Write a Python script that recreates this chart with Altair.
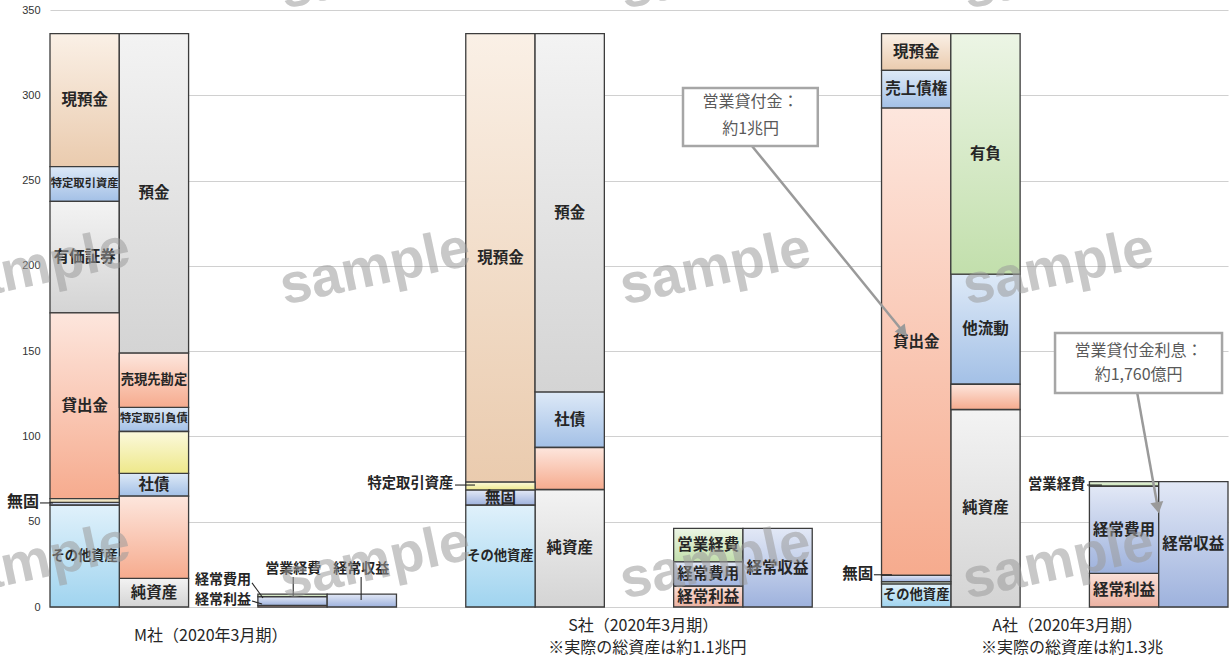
import math
import altair as alt
import pandas as pd

# ---------------------------------------------------------------- data
# x slots: 17 equal slots, balance sheet / income statement columns with gaps
columns = ["M資産", "M負債", "M費用", "M収益",
           "S資産", "S負債", "S費用", "S収益",
           "A資産", "A負債", "A費用", "A収益"]
column_slots = [0, 1, 3, 4, 6, 7, 9, 10, 12, 13, 15, 16]

# segments of each column, bottom to top
m_assets_items = ["その他資産", "無形", "固定", "貸出金", "有価証券", "特定取引資産", "現預金"]
m_assets_values = [59.8, 1.5, 2.2, 108.9, 65.4, 20.4, 78.0]
m_liab_items = ["純資産", "その他負債", "社債", "その他", "特定取引負債", "売現先勘定", "預金"]
m_liab_values = [16.8, 48.2, 13.3, 24.6, 14.1, 31.8, 187.4]
m_cost_items = ["経常利益", "経常費用", "営業経費"]
m_cost_values = [0.9, 5.1, 1.6]
m_rev_items = ["経常収益"]
m_rev_values = [7.6]

s_assets_items = ["その他資産", "無固", "特定取引資産", "現預金"]
s_assets_values = [59.8, 8.7, 4.7, 263.0]
s_liab_items = ["純資産", "その他負債", "社債", "預金"]
s_liab_values = [68.9, 24.6, 32.6, 210.1]
s_cost_items = ["経常利益", "経常費用", "営業経費"]
s_cost_values = [12.3, 14.2, 19.6]
s_rev_items = ["経常収益"]
s_rev_values = [46.1]

a_assets_items = ["その他資産", "無形", "固定", "貸出金", "売上債権", "現預金"]
a_assets_values = [13.5, 1.3, 3.7, 274.0, 22.1, 21.6]
a_liab_items = ["純資産", "その他負債", "他流動", "有負"]
a_liab_values = [115.8, 14.8, 64.5, 141.1]
a_cost_items = ["経常利益", "経常費用", "営業経費"]
a_cost_values = [19.7, 51.1, 2.7]
a_rev_items = ["経常収益"]
a_rev_values = [73.5]

segments = {
    "M資産": (m_assets_items, m_assets_values), "M負債": (m_liab_items, m_liab_values),
    "M費用": (m_cost_items, m_cost_values), "M収益": (m_rev_items, m_rev_values),
    "S資産": (s_assets_items, s_assets_values), "S負債": (s_liab_items, s_liab_values),
    "S費用": (s_cost_items, s_cost_values), "S収益": (s_rev_items, s_rev_values),
    "A資産": (a_assets_items, a_assets_values), "A負債": (a_liab_items, a_liab_values),
    "A費用": (a_cost_items, a_cost_values), "A収益": (a_rev_items, a_rev_values),
}

# company captions under each group
caption_texts = ["M社（2020年3月期）",
                 "S社（2020年3月期）", "※実際の総資産は約1.1兆円",
                 "A社（2020年3月期）", "※実際の総資産は約1.3兆"]
caption_x = [2.32, 8.56, 8.62, 14.68, 14.75]
caption_y = [-17.0, -11.4, -24.2, -11.4, -24.2]

# labels placed beside thin segments, with leader lines
side_texts = ["無固", "経常費用", "経常利益", "特定取引資産", "無固", "営業経費"]
side_x = [-0.16, 2.90, 2.90, 5.82, 11.88, 14.94]
side_y = [61.6, 15.8, 4.1, 72.1, 19.3, 71.5]
side_size = [16, 14, 14, 14.3, 15.5, 14.3]
top_texts = ["営業経費", "経常収益"]
top_x = [3.51, 4.49]
top_y = [22.3, 22.3]
leader_x = [-0.144, 2.915, 2.915, 3.51, 4.49, 5.845, 11.89, 14.966]
leader_x2 = [0.043, 3.074, 3.06, 3.51, 4.49, 6.134, 12.15, 15.18]
leader_y = [61.0, 14.1, 3.5, 17.6, 17.6, 71.5, 18.9, 71.5]
leader_y2 = [61.0, 5.3, 1.8, 6.4, 4.1, 71.5, 18.9, 71.5]

# callouts
callout_x = [9.135, 14.504]
callout_x2 = [11.08, 16.914]
callout_y = [304.3, 160.6]
callout_y2 = [270.3, 125.5]
callout_lines = ["営業貸付金：", "約1兆円", "営業貸付金利息：", "約1,760億円"]
callout_line_x = [10.11, 10.11, 15.71, 15.71]
callout_line_y = [295.8, 280.5, 150.1, 136.0]
arrow_from = [(10.13, 270.3), (15.69, 125.5)]
arrow_tip = [(12.36, 158.9), (16.0, 55.3)]

# watermark grid
mark_x = [-0.22, 4.69, 9.60, 14.55]
mark_y = [372.3, 198.7, 26.4]

# ---------------------------------------------------------------- styles
W, H = 1178, 597
PX_X = W / 17
PX_Y = H / 350

TONES = {
    "peach": ("#FAF0E6", "#EACBAE"),
    "blue": ("#DDE9F7", "#A3C0E6"),
    "gray": ("#F3F3F3", "#D4D4D4"),
    "salmon": ("#FDE6DD", "#F6AB8E"),
    "rose": ("#FAE0D8", "#ECB2A2"),
    "yellow": ("#FBF9DC", "#EEE88A"),
    "sky": ("#E0F1FB", "#A0D4EF"),
    "green": ("#ECF5E5", "#C2DFAC"),
    "lavender": ("#E2E8F6", "#9EB2DD"),
    "beige": ("#F6EFD8", "#E6D9AE"),
    "sage": ("#E6F0E0", "#C9DDC0"),
}
ITEM_TONE = {
    "現預金": "peach", "特定取引資産": "blue", "有価証券": "gray", "貸出金": "salmon",
    "その他資産": "sky", "無形": "lavender", "固定": "beige", "無固": "lavender",
    "預金": "gray", "売現先勘定": "salmon", "特定取引負債": "blue", "その他": "yellow",
    "社債": "blue", "その他負債": "salmon", "純資産": "gray", "売上債権": "blue",
    "有負": "green", "他流動": "blue", "経常利益": "rose", "経常費用": "lavender",
    "営業経費": "green", "経常収益": "lavender",
}
TONE_OVERRIDE = {("S資産", "特定取引資産"): "yellow", ("A資産", "無形"): "sage",
                 ("A資産", "固定"): "lavender"}
UNLABELED = {"無形", "固定", "その他負債", "その他"}
LABEL_SIZE = {"特定取引資産": 11.3, "特定取引負債": 11.3, "売現先勘定": 13.3, "その他資産": 13.3}
MIN_LABELED = 8.0

JP = "Noto Sans CJK JP"
INK = "#262626"

rows = []
for col, slot in zip(columns, column_slots):
    items, values = segments[col]
    base = 0.0
    for item, v in zip(items, values):
        rows.append(dict(
            col=col, item=item, x0=slot, x1=slot + 1, xc=slot + 0.5,
            y0=base, y1=base + v, mid=base + v / 2,
            tone=TONE_OVERRIDE.get((col, item), ITEM_TONE[item]),
            show=(item not in UNLABELED) and v >= MIN_LABELED,
            fs=LABEL_SIZE.get(item, 15.5),
        ))
        base += v
bars = pd.DataFrame(rows)

xs = alt.Scale(domain=[0, 17], nice=False, zero=False)
ys = alt.Scale(domain=[0, 350], nice=False, zero=True)

layers = []

# axis / grid carrier
axis_df = pd.DataFrame({"v": [0]})
layers.append(
    alt.Chart(axis_df).mark_point(opacity=0).encode(
        x=alt.X("v:Q", scale=xs, axis=None),
        y=alt.Y("v:Q", scale=ys, axis=alt.Axis(
            values=[0, 50, 100, 150, 200, 250, 300, 350], title=None, grid=True,
            gridColor="#d0d0d0", gridWidth=1.2, domain=False, ticks=False,
            labelFont="Liberation Sans", labelFontSize=11, labelColor="#333333",
            labelPadding=10)),
    )
)

# stacked segments, one layer per gradient tone
for tone, (c0, c1) in TONES.items():
    sub = bars[bars.tone == tone]
    if sub.empty:
        continue
    grad = alt.Gradient(gradient="linear",
                        stops=[alt.GradientStop(color=c0, offset=0),
                               alt.GradientStop(color=c1, offset=1)],
                        x1=0, x2=0, y1=0, y2=1)
    layers.append(
        alt.Chart(sub).mark_rect(fill=grad, stroke="#3c3c3c", strokeWidth=1.3).encode(
            x=alt.X("x0:Q", scale=xs, axis=None), x2="x1:Q",
            y=alt.Y("y0:Q", scale=ys), y2="y1:Q",
        )
    )

# labels inside segments
layers.append(
    alt.Chart(bars[bars.show]).mark_text(font=JP, fontWeight="bold", color=INK,
                                         baseline="middle", align="center").encode(
        x=alt.X("xc:Q", scale=xs), y=alt.Y("mid:Q", scale=ys),
        text="item:N", size=alt.Size("fs:Q", scale=None),
    )
)

# leader lines and side labels
leaders = pd.DataFrame({"x": leader_x, "x2": leader_x2, "y": leader_y, "y2": leader_y2})
layers.append(
    alt.Chart(leaders).mark_rule(color=INK, strokeWidth=1.1).encode(
        x=alt.X("x:Q", scale=xs), x2="x2:Q", y=alt.Y("y:Q", scale=ys), y2="y2:Q")
)
side = pd.DataFrame({"t": side_texts, "x": side_x, "y": side_y, "fs": side_size})
layers.append(
    alt.Chart(side).mark_text(font=JP, fontWeight="bold", color=INK, align="right",
                              baseline="middle").encode(
        x=alt.X("x:Q", scale=xs), y=alt.Y("y:Q", scale=ys), text="t:N",
        size=alt.Size("fs:Q", scale=None))
)
top = pd.DataFrame({"t": top_texts, "x": top_x, "y": top_y})
layers.append(
    alt.Chart(top).mark_text(font=JP, fontWeight="bold", color=INK, align="center",
                             baseline="middle", fontSize=14).encode(
        x=alt.X("x:Q", scale=xs), y=alt.Y("y:Q", scale=ys), text="t:N")
)

# captions
caps = pd.DataFrame({"t": caption_texts, "x": caption_x, "y": caption_y})
layers.append(
    alt.Chart(caps).mark_text(font=JP, color=INK, align="center", baseline="middle",
                              fontSize=16).encode(
        x=alt.X("x:Q", scale=xs), y=alt.Y("y:Q", scale=ys), text="t:N")
)

# callout arrows
arrow_rows, head_rows = [], []
for (fx, fy), (tx, ty) in zip(arrow_from, arrow_tip):
    dxp = (tx - fx) * PX_X
    dyp = -(ty - fy) * PX_Y
    L = math.hypot(dxp, dyp)
    ux, uy = dxp / L, dyp / L
    back = 7
    hx, hy = tx - ux * back / PX_X, ty + uy * back / PX_Y
    ang = math.degrees(math.atan2(ux, -uy)) % 360
    arrow_rows.append(dict(x=fx, y=fy, x2=hx, y2=hy))
    head_rows.append(dict(x=hx, y=hy, a=ang))
layers.append(
    alt.Chart(pd.DataFrame(arrow_rows)).mark_rule(color="#9a9a9a", strokeWidth=2.5).encode(
        x=alt.X("x:Q", scale=xs), x2="x2:Q", y=alt.Y("y:Q", scale=ys), y2="y2:Q")
)
layers.append(
    alt.Chart(pd.DataFrame(head_rows)).mark_point(shape="triangle", filled=True, size=170,
                                                  color="#9a9a9a", opacity=1).encode(
        x=alt.X("x:Q", scale=xs), y=alt.Y("y:Q", scale=ys),
        angle=alt.Angle("a:Q", scale=None))
)

# callout boxes and texts
boxes = pd.DataFrame({"x": callout_x, "x2": callout_x2, "y": callout_y, "y2": callout_y2})
layers.append(
    alt.Chart(boxes).mark_rect(fill="white", stroke="#a6a6a6", strokeWidth=2.5).encode(
        x=alt.X("x:Q", scale=xs), x2="x2:Q", y=alt.Y("y:Q", scale=ys), y2="y2:Q")
)
clines = pd.DataFrame({"t": callout_lines, "x": callout_line_x, "y": callout_line_y})
layers.append(
    alt.Chart(clines).mark_text(font=JP, color="#595959", align="center", baseline="middle",
                                fontSize=16).encode(
        x=alt.X("x:Q", scale=xs), y=alt.Y("y:Q", scale=ys), text="t:N")
)

# watermark
wm = pd.DataFrame([dict(x=x, y=y, t="sample") for y in mark_y for x in mark_x])
layers.append(
    alt.Chart(wm).mark_text(font="Liberation Sans", fontWeight="bold", fontSize=56,
                            color="#9c9c9c", opacity=0.55, angle=348, align="center",
                            baseline="middle").encode(
        x=alt.X("x:Q", scale=xs), y=alt.Y("y:Q", scale=ys), text="t:N")
)

chart = alt.layer(*layers).properties(
    width=W, height=H,
    autosize=alt.AutoSizeParams(type="none"),
    padding={"left": 50, "top": 10, "right": 1, "bottom": 54},
    background="white",
).configure_view(stroke=None)

chart.save("out.html", embed_options={"renderer": "svg", "actions": False})
